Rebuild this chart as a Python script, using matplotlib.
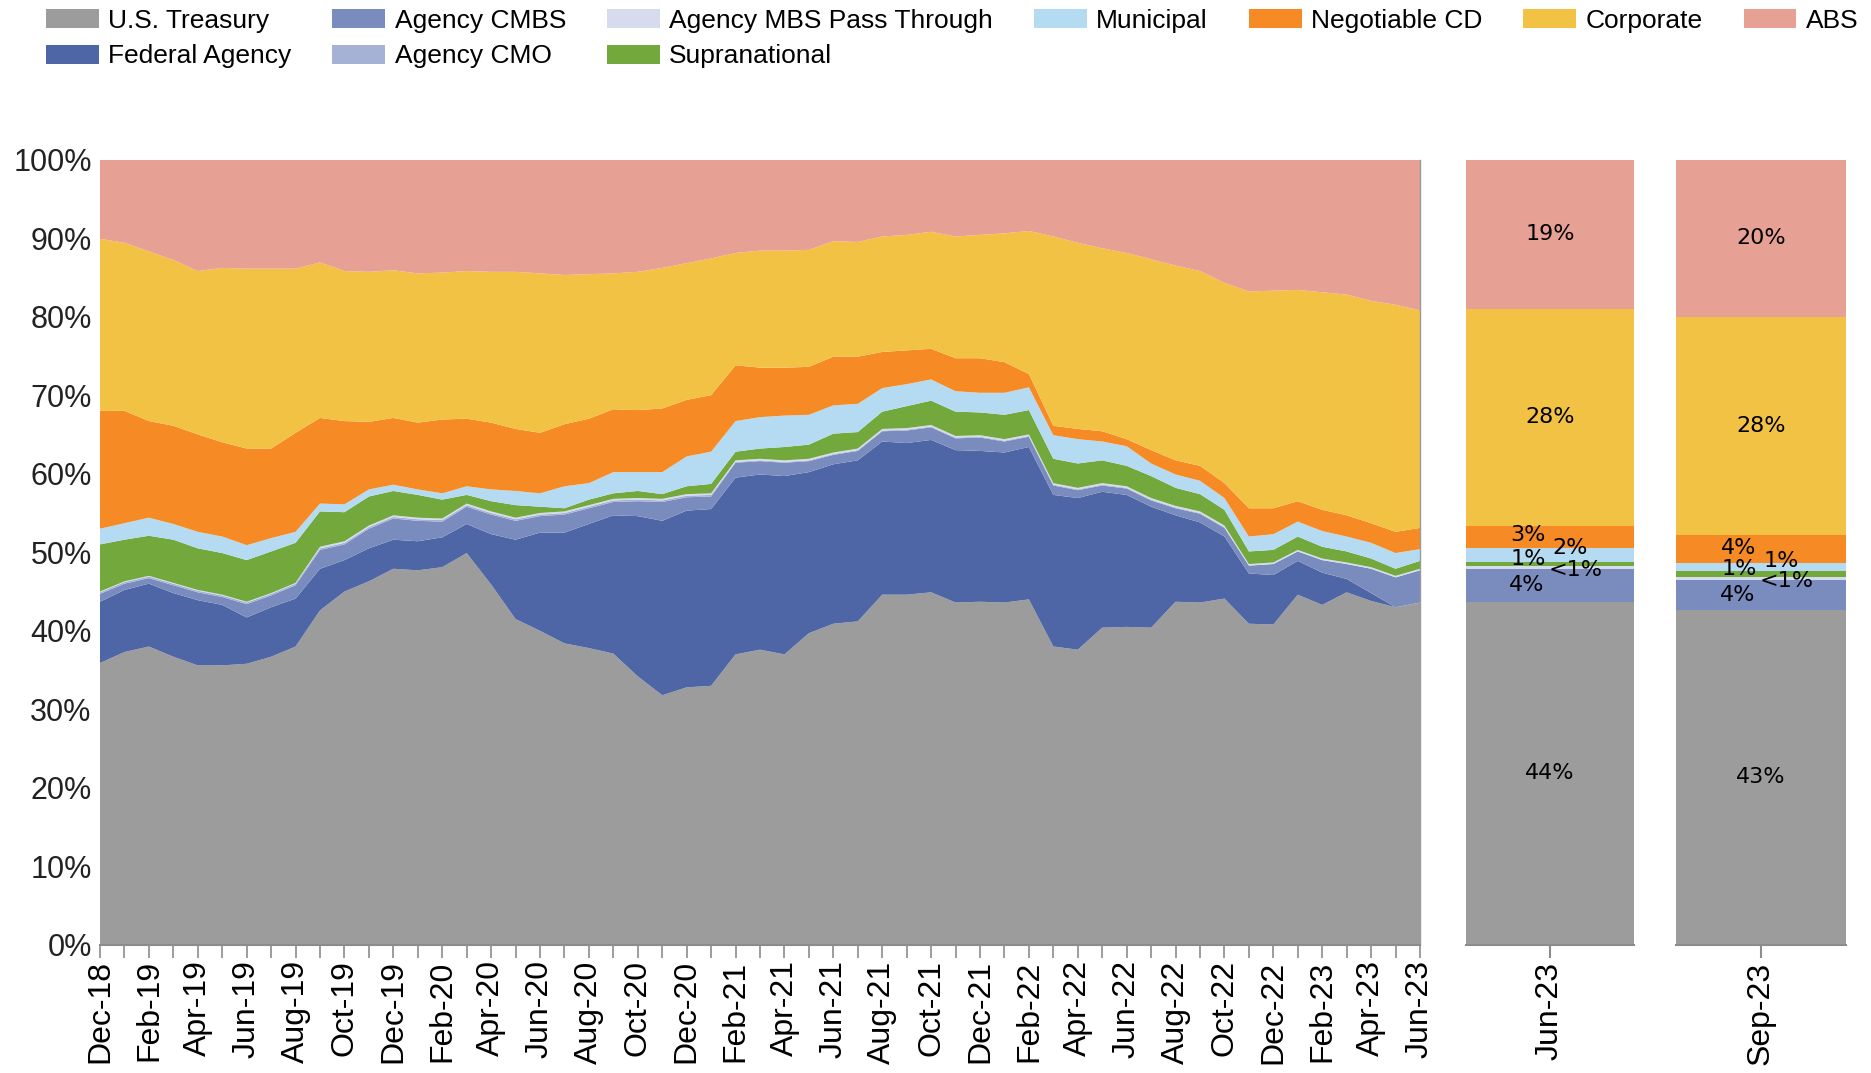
import numpy as np
import pandas as pd
import matplotlib
matplotlib.use("Agg")
import matplotlib.pyplot as plt

plt.rcParams['font.family'] = ['Liberation Sans', 'DejaVu Sans']

# monthly portfolio composition, Dec-18 .. Jun-23 (% of portfolio)
months = pd.date_range('2018-12-01', periods=55, freq='MS').strftime('%b-%y').tolist()

sectors = ['U.S. Treasury', 'Federal Agency', 'Agency CMBS', 'Agency CMO',
           'Agency MBS Pass Through', 'Supranational', 'Municipal',
           'Negotiable CD', 'Corporate', 'ABS']
colors = ['#9c9c9c', '#4e66a5', '#7a8cbe', '#a5b2d6', '#d6dbed',
          '#72a83c', '#b5dbf2', '#f68a24', '#f2c244', '#e7a194']

treasury = [35.9, 37.3, 38.0, 36.7, 35.6, 35.6, 35.8, 36.7, 38.0, 42.6, 45.0, 46.3, 47.9, 47.7,
            48.1, 49.9, 45.9, 41.5, 40.0, 38.4, 37.8, 37.1, 34.2, 31.8, 32.8, 33.0, 37.0, 37.6,
            37.0, 39.7, 40.9, 41.2, 44.6, 44.6, 44.9, 43.6, 43.7, 43.6, 44.0, 38.0, 37.6, 40.4,
            40.5, 40.4, 43.7, 43.6, 44.1, 40.9, 40.8, 44.6, 43.3, 44.9, 43.8, 43.0, 43.6]
federal = [7.8, 7.9, 8.0, 8.1, 8.3, 7.7, 5.9, 6.3, 6.1, 5.3, 4.0, 4.2, 3.7, 3.7,
           3.8, 3.7, 6.4, 10.1, 12.5, 14.1, 15.8, 17.6, 20.4, 22.2, 22.5, 22.5, 22.5, 22.3,
           22.7, 20.5, 20.3, 20.5, 19.5, 19.3, 19.4, 19.4, 19.2, 19.1, 19.4, 19.3, 19.3, 17.3,
           16.8, 15.4, 11.0, 10.2, 7.9, 6.4, 6.3, 4.3, 4.1, 1.7, 1.0, 0.0, 0.0]
cmbs = [1.0, 0.8, 0.7, 1.0, 1.0, 1.0, 1.7, 1.5, 1.7, 2.4, 2.0, 2.5, 2.7, 2.6,
        2.0, 2.2, 2.5, 2.4, 2.1, 2.3, 2.0, 1.7, 1.9, 2.4, 1.7, 1.6, 1.9, 1.7,
        1.7, 1.4, 1.2, 1.2, 1.3, 1.6, 1.6, 1.5, 1.7, 1.4, 1.3, 1.2, 1.0, 0.8,
        0.8, 0.8, 0.9, 1.1, 1.1, 1.0, 1.4, 1.2, 1.6, 1.9, 3.1, 3.8, 4.1]
cmo = [0.2, 0.2, 0.2, 0.2, 0.2, 0.2, 0.2, 0.2, 0.2, 0.2, 0.2, 0.2, 0.2, 0.2,
       0.2, 0.2, 0.2, 0.2, 0.2, 0.2, 0.2, 0.2, 0.2, 0.2, 0.2, 0.2, 0.1, 0.1,
       0.1, 0.1, 0.1, 0.1, 0.1, 0.1, 0.1, 0.1, 0.1, 0.1, 0.1, 0.1, 0.1, 0.1,
       0.1, 0.1, 0.1, 0.1, 0.1, 0.0, 0.0, 0.0, 0.0, 0.0, 0.0, 0.0, 0.0]
mbs = [0.1, 0.1, 0.1, 0.1, 0.1, 0.1, 0.1, 0.1, 0.1, 0.2, 0.2, 0.2, 0.2, 0.2,
       0.2, 0.2, 0.2, 0.2, 0.2, 0.2, 0.2, 0.2, 0.2, 0.2, 0.2, 0.2, 0.2, 0.2,
       0.2, 0.2, 0.2, 0.2, 0.2, 0.2, 0.2, 0.2, 0.2, 0.2, 0.2, 0.2, 0.2, 0.2,
       0.2, 0.2, 0.2, 0.2, 0.2, 0.2, 0.2, 0.2, 0.2, 0.2, 0.2, 0.2, 0.2]
supra = [6.0, 5.3, 5.1, 5.5, 5.3, 5.3, 5.3, 5.3, 5.1, 4.5, 3.7, 3.7, 3.1, 2.9,
         2.4, 1.1, 1.3, 1.6, 0.8, 0.4, 0.7, 0.7, 0.9, 0.6, 1.0, 1.2, 1.1, 1.3,
         1.7, 1.8, 2.4, 2.1, 2.2, 2.8, 3.1, 3.1, 2.9, 3.1, 3.1, 3.1, 3.1, 2.9,
         2.6, 2.8, 2.3, 2.2, 2.0, 1.6, 1.6, 1.7, 1.5, 1.4, 1.1, 0.9, 1.0]
muni = [2.0, 2.1, 2.3, 2.0, 2.1, 2.1, 1.9, 1.7, 1.4, 1.0, 1.0, 0.9, 0.8, 0.7,
        0.8, 1.1, 1.5, 1.8, 1.7, 2.8, 2.1, 2.7, 2.4, 2.8, 3.8, 4.1, 3.9, 4.0,
        4.0, 3.8, 3.6, 3.6, 3.0, 2.8, 2.7, 2.6, 2.5, 2.8, 2.9, 3.0, 3.1, 2.4,
        2.5, 1.6, 1.7, 1.7, 1.5, 1.9, 2.0, 1.9, 2.0, 1.9, 2.0, 2.0, 1.5]
cd = [15.0, 14.3, 12.3, 12.5, 12.4, 12.0, 12.3, 11.4, 12.6, 10.9, 10.6, 8.6, 8.5, 8.5,
      9.4, 8.6, 8.5, 7.9, 7.7, 7.9, 8.2, 8.0, 7.9, 8.1, 7.2, 7.2, 7.1, 6.3,
      6.1, 6.1, 6.2, 6.0, 4.6, 4.3, 3.9, 4.2, 4.4, 3.9, 1.7, 1.2, 1.3, 1.3,
      0.9, 1.7, 1.8, 1.9, 1.9, 3.6, 3.3, 2.6, 2.7, 2.7, 2.5, 2.7, 2.7]
corporate = [21.9, 21.4, 21.6, 21.1, 20.8, 22.2, 22.9, 22.9, 20.9, 19.8, 19.1, 19.1, 18.8, 19.0,
             18.7, 18.8, 19.2, 20.0, 20.3, 19.0, 18.4, 17.3, 17.6, 17.9, 17.4, 17.4, 14.3, 14.9,
             14.9, 14.9, 14.7, 14.6, 14.7, 14.7, 14.9, 15.5, 15.7, 16.4, 18.2, 24.1, 23.7, 23.3,
             23.7, 24.3, 24.8, 24.8, 25.5, 27.6, 27.7, 26.9, 27.7, 28.1, 28.3, 28.9, 27.7]
abs_ = [10.1, 10.6, 11.7, 12.8, 14.2, 13.8, 13.9, 13.9, 13.9, 13.1, 14.2, 14.3, 14.1, 14.5,
        14.4, 14.2, 14.3, 14.3, 14.5, 14.7, 14.6, 14.5, 14.3, 13.8, 13.2, 12.6, 11.9, 11.6,
        11.6, 11.5, 10.4, 10.5, 9.8, 9.6, 9.2, 9.8, 9.6, 9.4, 9.1, 9.8, 10.6, 11.3,
        11.9, 12.7, 13.5, 14.2, 15.7, 16.8, 16.7, 16.6, 16.9, 17.2, 18.0, 18.5, 19.2]

# quarter-end snapshots
bar_names = ['Jun-23', 'Sep-23']
jun23 = [43.7, 0.0, 4.2, 0.0, 0.3, 0.6, 1.8, 2.8, 27.6, 19.0]
sep23 = [42.7, 0.0, 3.8, 0.0, 0.3, 0.8, 1.0, 3.6, 27.7, 20.1]
jun23_labels = ['44%', '', '4%', '', '<1%', '1%', '2%', '3%', '28%', '19%']
sep23_labels = ['43%', '', '4%', '', '<1%', '1%', '1%', '4%', '28%', '20%']

series = [treasury, federal, cmbs, cmo, mbs, supra, muni, cd, corporate, abs_]

fig = plt.figure(figsize=(18.71, 10.73), dpi=100)
W, H = 1871, 1073
bottom, top = 945, 159.5
ax = fig.add_axes([100 / W, 1 - bottom / H, 1320 / W, (bottom - top) / H])

x = np.arange(len(months))
polys = ax.stackplot(x, *series, colors=colors, labels=sectors, linewidth=0)
ax.set_xlim(0, len(months) - 1)
ax.set_ylim(0, 100)
ax.set_yticks(range(0, 101, 10))
ax.set_yticklabels([f'{v}%' for v in range(0, 101, 10)], fontsize=22, color='#222222')
ax.tick_params(axis='y', length=0, pad=6)
ax.set_xticks(x)
ax.set_xticklabels([m if i % 2 == 0 else '' for i, m in enumerate(months)],
                   rotation=90, fontsize=23)
ax.tick_params(axis='x', length=9, color='#8c8c8c', width=1.2, pad=2)
for s in ['top', 'left']:
    ax.spines[s].set_visible(False)
ax.spines['bottom'].set_color('#8c8c8c')
ax.spines['bottom'].set_linewidth(1.5)
ax.spines['right'].set_color('#9a9a9a')
ax.spines['right'].set_linewidth(1)

# side bars
dx = [0, 0, -0.14, 0, 0.15, -0.13, 0.12, -0.13, 0, 0]
dy = [0, 0, 0, 0, -0.3, 0.7, 0.8, 0.2, 0, 0]
bar_pos = [(1466, 168), (1676, 170)]
for (left, width), name, vals, labs in zip(bar_pos, bar_names, [jun23, sep23],
                                           [jun23_labels, sep23_labels]):
    bx = fig.add_axes([left / W, 1 - bottom / H, width / W, (bottom - top) / H])
    cum = 0
    for k, v in enumerate(vals):
        bx.bar(0, v, bottom=cum, width=1.0, color=colors[k], linewidth=0)
        if labs[k]:
            bx.text(dx[k], cum + v / 2 + dy[k], labs[k], ha='center', va='center',
                    fontsize=16, family='DejaVu Sans', color='black')
        cum += v
    bx.set_xlim(-0.5, 0.5)
    bx.set_ylim(0, 100)
    bx.set_yticks([])
    bx.set_xticks([0])
    bx.set_xticklabels([name], rotation=90, fontsize=23)
    bx.tick_params(axis='x', length=9, color='#8c8c8c', width=1.5, pad=3)
    for s in ['top', 'left', 'right']:
        bx.spines[s].set_visible(False)
    bx.spines['bottom'].set_color('#8c8c8c')
    bx.spines['bottom'].set_linewidth(1.5)

fig.legend(handles=polys, labels=sectors, loc='upper left', ncol=7,
           bbox_to_anchor=(46 / W, 1 - 9 / H), frameon=False, fontsize=19,
           handlelength=2.0, handleheight=0.72, handletextpad=0.36,
           columnspacing=1.55, labelspacing=0.43, borderpad=0, borderaxespad=0)

fig.savefig('out.png', dpi=100)
